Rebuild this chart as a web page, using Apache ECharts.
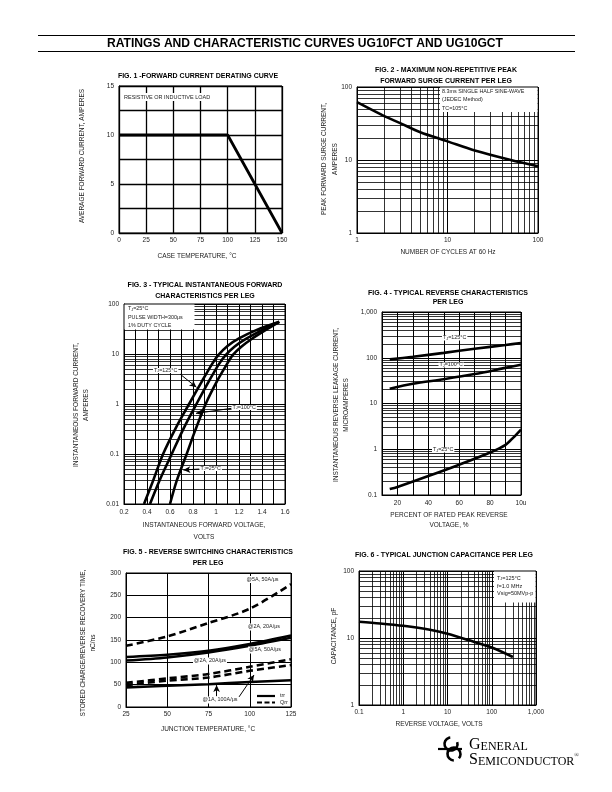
<!DOCTYPE html>
<html><head><meta charset="utf-8">
<script src="https://cdn.jsdelivr.net/npm/echarts@6/dist/echarts.min.js"></script>
<style>html,body{margin:0;padding:0;background:#fff}#c{width:612px;height:792px}</style>
</head><body><div id="c"></div>
<script>
// ---------- DATA ----------
// Fig 1
const fig1Temp = [0, 100, 150];
const fig1Current = [10, 10, 0];
// Fig 2
const fig2Cycles = [1, 2, 3, 5, 10, 20, 50, 100];
const fig2Current = [62, 40, 32, 24, 18, 13.5, 10, 8.2];
// Fig 3
const fig3V125 = [0.374, 0.45, 0.54, 0.65, 0.766, 0.88, 0.96, 1.02, 1.10, 1.20, 1.35, 1.55];
const fig3I125 = [0.01, 0.028, 0.1, 0.33, 1, 2.9, 6, 9.5, 14.5, 20.5, 30, 44];
const fig3V100 = [0.426, 0.51, 0.615, 0.72, 0.83, 0.94, 1.02, 1.08, 1.16, 1.26, 1.40, 1.55];
const fig3I100 = [0.01, 0.03, 0.1, 0.33, 1, 2.9, 6, 9.3, 14, 20, 30, 44];
const fig3V25 = [0.60, 0.66, 0.745, 0.82, 0.91, 1.01, 1.09, 1.145, 1.22, 1.31, 1.43, 1.55];
const fig3I25 = [0.01, 0.03, 0.1, 0.3, 1, 2.9, 6, 9.5, 14, 20, 30, 44];
// Fig 4
const fig4X125 = [15, 30, 50, 70, 90, 100];
const fig4Y125 = [92, 105, 128, 157, 190, 210];
const fig4X100 = [15, 30, 50, 70, 90, 100];
const fig4Y100 = [21, 27, 34, 44, 60, 70];
const fig4X25 = [15, 20, 40, 60, 80, 90, 95, 100];
const fig4Y25 = [0.135, 0.15, 0.26, 0.46, 0.85, 1.25, 1.8, 2.7];
// Fig 5
const fig5Temp = [25, 50, 75, 100, 125];
const fig5Qrr5A = [137, 158, 188, 220, 275];
const fig5Trr2A = [112, 117, 126, 141, 160];
const fig5Trr5A = [104, 111, 122, 137, 155];
const fig5Qrr2A = [54, 64, 74, 90, 107];
const fig5Qrr1A = [49, 59, 66, 81, 94];
const fig5Trr1A = [44, 47.5, 51, 56, 60];
// Fig 6
const fig6Volt = [0.1, 0.3, 1, 4, 10, 30, 100, 300];
const fig6Cap = [17.5, 16.5, 15.2, 13.3, 11.6, 9.3, 7.2, 5.2];
// Axis tick labels
const fig1XTicks = [0, 25, 50, 75, 100, 125, 150];
const fig1YTicks = [0, 5, 10, 15];
const fig4XLabels = {20: '20', 40: '40', 60: '60', 80: '80', 100: '10u'};
// Annotation arrows (data coords)
const fig3Arrows = [[[0.687, 3.98], [0.83, 2.16]], [[1.137, 0.82], [0.826, 0.65]], [[0.855, 0.05], [0.716, 0.048]]];
const fig5Arrows = [[[79.9, 24], [79.9, 49]], [[93.5, 22.6], [102.6, 71.7]]];

// ---------- HELPERS ----------
const FONT = '"Liberation Sans", Arial, Helvetica, sans-serif';
const SERIF = '"Liberation Serif", "DejaVu Serif", serif';
function zip(a, b) { return a.map((v, i) => [v, b[i]]); }
function minorLog(lo, hi) { // minor log gridline values
  const out = [];
  for (let d = lo; d < hi * 0.999; d *= 10) for (let k = 2; k <= 9; k++) out.push(+(d * k).toPrecision(4));
  return out;
}
function fmtLog(v) {
  v = +(+v).toPrecision(6);
  return v >= 1000 ? v.toLocaleString('en-US') : String(v);
}
const BLK = '#000';
function lbl(extra) { return Object.assign({color: '#222', fontSize: 6.5, fontFamily: FONT, margin: 4}, extra); }
function axisBase(extra) {
  return Object.assign({
    axisLine: {show: true, lineStyle: {color: BLK, width: 1}},
    axisTick: {show: false},
    splitLine: {show: true, lineStyle: {color: BLK, width: 1}},
    axisLabel: lbl(),
  }, extra);
}
function gridSeries(i, xs, ys) {
  const data = [];
  (xs || []).forEach(v => data.push({xAxis: v}));
  (ys || []).forEach(v => data.push({yAxis: v}));
  return {type: 'line', xAxisIndex: i, yAxisIndex: i, data: [], z: 1, silent: true,
    markLine: {silent: true, symbol: ['none', 'none'], label: {show: false}, animation: false,
      lineStyle: {color: BLK, width: 0.8, type: 'solid'}, emphasis: {disabled: true}, data}};
}
function curve(i, x, y, o = {}) {
  return {type: 'line', xAxisIndex: i, yAxisIndex: i, data: zip(x, y), smooth: o.smooth === undefined ? 0.3 : o.smooth,
    showSymbol: false, symbol: 'none', z: 5, silent: true,
    lineStyle: {color: BLK, width: o.w || 2.6, type: o.type || 'solid', cap: 'butt'}};
}
function arrows(i, list) {
  return {type: 'line', xAxisIndex: i, yAxisIndex: i, data: [], z: 6, silent: true,
    markLine: {silent: true, symbol: ['none', 'arrow'], symbolSize: [5, 7], label: {show: false}, animation: false,
      lineStyle: {color: BLK, width: 1, type: 'solid'}, emphasis: {disabled: true},
      data: list.map(a => [{coord: a[0]}, {coord: a[1]}])}};
}
function txt(x, y, text, o = {}) {
  return {type: 'text', x, y, rotation: o.rot || 0, z: 100, silent: true,
    style: {text, fill: o.color || '#222', fontSize: o.size || 6, fontFamily: o.family || FONT,
      fontWeight: o.bold ? 'bold' : 'normal', align: o.align || 'center', verticalAlign: 'middle',
      lineHeight: o.lh, backgroundColor: o.bg, padding: o.pad}};
}
function rect(x, y, w, h) {
  return {type: 'rect', z: 90, silent: true, shape: {x, y, width: w, height: h}, style: {fill: '#fff'}};
}
function tjTxt(x, y, rest, size, bg) {
  const el = txt(x, y, '{a|T}{s|J}{a|' + rest + '}', {size, align: 'left', bg: bg ? '#fff' : undefined, pad: bg ? [0, 1] : undefined});
  el.style.rich = {a: {fontSize: size, fontFamily: FONT, fill: '#222'},
    s: {fontSize: size * 0.7, fontFamily: FONT, fill: '#222', verticalAlign: 'bottom'}};
  return el;
}

const grids = [
  {left: 119, top: 86, width: 163, height: 147},
  {left: 357, top: 87, width: 181, height: 146},
  {left: 124, top: 304, width: 161, height: 200},
  {left: 382, top: 312, width: 139, height: 183},
  {left: 126, top: 573, width: 165, height: 134},
  {left: 359, top: 571, width: 177, height: 134},
].map(g => Object.assign({show: true, borderColor: BLK, borderWidth: 1, containLabel: false}, g));

const xAxes = [
  axisBase({gridIndex: 0, type: 'value', min: 0, max: 150, interval: 25,
    splitLine: {show: true, lineStyle: {color: BLK, width: 1.3}},
    axisLabel: lbl({formatter: v => fig1XTicks.includes(v) ? String(v) : ''})}),
  axisBase({gridIndex: 1, type: 'log', logBase: 10, min: 1, max: 100, axisLabel: lbl({formatter: fmtLog})}),
  axisBase({gridIndex: 2, type: 'value', min: 0.2, max: 1.6, interval: 0.1,
    axisLabel: lbl({margin: 5, formatter: v => (Math.round(v * 10) % 2 === 0) ? String(+(+v).toFixed(1)) : ''})}),
  axisBase({gridIndex: 3, type: 'value', min: 10, max: 100, interval: 10,
    axisLabel: lbl({margin: 5, formatter: v => fig4XLabels[Math.round(v)] || ''})}),
  axisBase({gridIndex: 4, type: 'value', min: 25, max: 125, interval: 25}),
  axisBase({gridIndex: 5, type: 'log', logBase: 10, min: 0.1, max: 1000, axisLabel: lbl({formatter: fmtLog})}),
];
const yAxes = [
  axisBase({gridIndex: 0, type: 'value', min: 0, max: 15, interval: 2.5,
    splitLine: {show: true, lineStyle: {color: BLK, width: 1.3}},
    axisLabel: lbl({margin: 5, formatter: v => fig1YTicks.includes(v) ? String(v) : ''})}),
  axisBase({gridIndex: 1, type: 'log', logBase: 10, min: 1, max: 100, axisLabel: lbl({margin: 5, formatter: fmtLog})}),
  axisBase({gridIndex: 2, type: 'log', logBase: 10, min: 0.01, max: 100, axisLabel: lbl({margin: 5, formatter: fmtLog})}),
  axisBase({gridIndex: 3, type: 'log', logBase: 10, min: 0.1, max: 1000, axisLabel: lbl({margin: 5, formatter: fmtLog})}),
  axisBase({gridIndex: 4, type: 'value', min: 0, max: 300, interval: 50, axisLabel: lbl({margin: 5})}),
  axisBase({gridIndex: 5, type: 'log', logBase: 10, min: 1, max: 100, axisLabel: lbl({margin: 5, formatter: fmtLog})}),
];

const series = [
  curve(0, fig1Temp, fig1Current, {smooth: false, w: 2.8}),
  gridSeries(1, minorLog(1, 100), minorLog(1, 100)),
  curve(1, fig2Cycles, fig2Current, {w: 2.6}),
  gridSeries(2, null, minorLog(0.01, 100)),
  curve(2, fig3V125, fig3I125), curve(2, fig3V100, fig3I100), curve(2, fig3V25, fig3I25),
  arrows(2, fig3Arrows),
  gridSeries(3, null, minorLog(0.1, 1000)),
  curve(3, fig4X125, fig4Y125), curve(3, fig4X100, fig4Y100), curve(3, fig4X25, fig4Y25),
  curve(4, fig5Temp, fig5Qrr5A, {type: [7, 4]}),
  curve(4, fig5Temp, fig5Trr2A), curve(4, fig5Temp, fig5Trr5A),
  curve(4, fig5Temp, fig5Qrr2A, {type: [7, 4]}), curve(4, fig5Temp, fig5Qrr1A, {type: [7, 4]}),
  curve(4, fig5Temp, fig5Trr1A),
  arrows(4, fig5Arrows),
  gridSeries(5, minorLog(0.1, 1000), minorLog(1, 100)),
  curve(5, fig6Volt, fig6Cap, {w: 2.6}),
];

const R = Math.PI / 2;
const TS = 7; // figure title size
const NS = 6.5; // axis name size
const graphic = [
  // page header
  {type: 'line', z: 100, shape: {x1: 38, y1: 35.5, x2: 575, y2: 35.5}, style: {stroke: BLK, lineWidth: 1.2}},
  {type: 'line', z: 100, shape: {x1: 38, y1: 51.5, x2: 575, y2: 51.5}, style: {stroke: BLK, lineWidth: 1.2}},
  txt(305, 43.5, 'RATINGS AND CHARACTERISTIC CURVES UG10FCT AND UG10GCT', {size: 12.1, bold: true, color: '#000'}),
  // Fig 1
  txt(198, 76, 'FIG. 1 -FORWARD CURRENT DERATING CURVE', {size: TS, bold: true, color: '#000'}),
  txt(82, 156, 'AVERAGE FORWARD CURRENT, AMPERES', {size: NS, rot: R}),
  txt(197, 256.5, 'CASE TEMPERATURE, \u00b0C', {size: NS}),
  txt(123, 97, 'RESISTIVE OR INDUCTIVE LOAD', {size: 5.5, align: 'left', bg: '#fff', pad: [1, 1]}),
  // Fig 2
  txt(446, 75.5, 'FIG. 2 - MAXIMUM NON-REPETITIVE PEAK\nFORWARD SURGE CURRENT PER LEG', {size: TS, bold: true, color: '#000', lh: 10.5}),
  txt(330, 159, 'PEAK FORWARD SURGE CURRENT,\nAMPERES', {size: NS, rot: R, lh: 11}),
  txt(448, 252, 'NUMBER OF CYCLES AT 60 Hz', {size: NS}),
  rect(440, 87.5, 97.5, 24.5),
  txt(442, 100, '8.3ms SINGLE HALF SINE-WAVE\n(JEDEC Method)\nTC=105\u00b0C', {size: 5.4, align: 'left', lh: 8.3}),
  // Fig 3
  txt(205, 290.5, 'FIG. 3 - TYPICAL INSTANTANEOUS FORWARD\nCHARACTERISTICS PER LEG', {size: TS, bold: true, color: '#000', lh: 10.5}),
  txt(81, 405, 'INSTANTANEOUS FORWARD CURRENT,\nAMPERES', {size: NS, rot: R, lh: 10}),
  txt(204, 531, 'INSTANTANEOUS FORWARD VOLTAGE,\nVOLTS', {size: NS, lh: 12}),
  rect(124.5, 304.5, 70, 25),
  tjTxt(128, 309, '=25\u00b0C', 5.4, false),
  txt(128, 321.5, 'PULSE WIDTH=300\u03bcs\n1% DUTY CYCLE', {size: 5.4, align: 'left', lh: 8.3}),
  tjTxt(153, 370.5, '=125\u00b0C', 5.4, true),
  tjTxt(231.5, 407.5, '=100\u00b0C', 5.4, true),
  tjTxt(199.5, 468.5, '=25\u00b0C', 5.4, true),
  // Fig 4
  txt(448, 297.5, 'FIG. 4 - TYPICAL REVERSE CHARACTERISTICS\nPER LEG', {size: TS, bold: true, color: '#000', lh: 9.5}),
  txt(341, 405, 'INSTANTANEOUS REVERSE LEAKAGE CURRENT,\nMICROAMPERES', {size: NS, rot: R, lh: 10}),
  txt(449, 520, 'PERCENT OF RATED PEAK REVERSE\nVOLTAGE, %', {size: NS, lh: 10.5}),
  tjTxt(442, 338, '=125\u00b0C', 5.4, true),
  tjTxt(438.5, 365, '=100\u00b0C', 5.4, true),
  tjTxt(432, 450, '=25\u00b0C', 5.4, true),
  // Fig 5
  txt(208, 557.5, 'FIG. 5 - REVERSE SWITCHING CHARACTERISTICS\nPER LEG', {size: TS, bold: true, color: '#000', lh: 10.5}),
  txt(88, 643, 'STORED CHARGE/REVERSE RECOVERY TIME,\nnC/ns', {size: NS, rot: R, lh: 10}),
  txt(208, 729.5, 'JUNCTION TEMPERATURE, \u00b0C', {size: NS}),
  txt(262.5, 579.5, '@5A, 50A/\u03bcs', {size: 5.4, bg: '#fff', pad: [1, 1]}),
  txt(264, 627, '@2A, 20A/\u03bcs', {size: 5.4, bg: '#fff', pad: [1, 1]}),
  txt(265, 650, '@5A, 50A/\u03bcs', {size: 5.4, bg: '#fff', pad: [1, 1]}),
  txt(210, 661, '@2A, 20A/\u03bcs', {size: 5.4, bg: '#fff', pad: [1, 1]}),
  txt(220, 700, '@1A, 100A/\u03bcs', {size: 5.4, bg: '#fff', pad: [1, 1]}),
  {type: 'line', z: 100, shape: {x1: 257, y1: 696, x2: 275, y2: 696}, style: {stroke: BLK, lineWidth: 2.2}},
  {type: 'line', z: 100, shape: {x1: 257, y1: 702.5, x2: 275, y2: 702.5}, style: {stroke: BLK, lineWidth: 2.2, lineDash: [5, 2.5]}},
  txt(280, 696, 'trr', {size: 5.4, align: 'left'}),
  txt(280, 702.5, 'Qrr', {size: 5.4, align: 'left'}),
  // Fig 6
  txt(444, 555, 'FIG. 6 - TYPICAL JUNCTION CAPACITANCE PER LEG', {size: TS, bold: true, color: '#000'}),
  txt(334, 636, 'CAPACITANCE, pF', {size: NS, rot: R}),
  txt(439, 724, 'REVERSE VOLTAGE, VOLTS', {size: NS}),
  rect(494, 571.5, 41.5, 31),
  tjTxt(497, 578, '=125\u00b0C', 5.5, false),
  txt(497, 590, 'f=1.0 MHz\nVsig=50MVp-p', {size: 5.5, align: 'left', lh: 7.8}),
  // Logo
  {type: 'arc', z: 100, shape: {cx: 451, cy: 744, r: 6.5, startAngle: -0.3, endAngle: 4.6}, style: {stroke: BLK, fill: 'none', lineWidth: 2.6}},
  {type: 'arc', z: 100, shape: {cx: 454, cy: 754, r: 6.5, startAngle: 1.6, endAngle: 7.0}, style: {stroke: BLK, fill: 'none', lineWidth: 2.6}},
  {type: 'line', z: 100, shape: {x1: 438, y1: 749, x2: 462, y2: 749}, style: {stroke: BLK, lineWidth: 2.2}},
  {type: 'text', z: 100, x: 469, y: 745, style: {text: '{b|G}{s|ENERAL}', verticalAlign: 'middle', align: 'left',
    rich: {b: {fontSize: 16, fontFamily: SERIF, fill: '#000'}, s: {fontSize: 12, fontFamily: SERIF, fill: '#000', verticalAlign: 'bottom'}}}},
  {type: 'text', z: 100, x: 469, y: 760, style: {text: '{b|S}{s|EMICONDUCTOR}{r|\u00ae}', verticalAlign: 'middle', align: 'left',
    rich: {b: {fontSize: 16, fontFamily: SERIF, fill: '#000'}, s: {fontSize: 12, fontFamily: SERIF, fill: '#000', verticalAlign: 'bottom'}, r: {fontSize: 6, fontFamily: SERIF, fill: '#000', verticalAlign: 'top'}}}},
];

const chart = echarts.init(document.getElementById('c'), null, {renderer: 'canvas'});
chart.setOption({
  animation: false,
  backgroundColor: '#fff',
  grid: grids, xAxis: xAxes, yAxis: yAxes, series, graphic,
});
</script></body></html>
